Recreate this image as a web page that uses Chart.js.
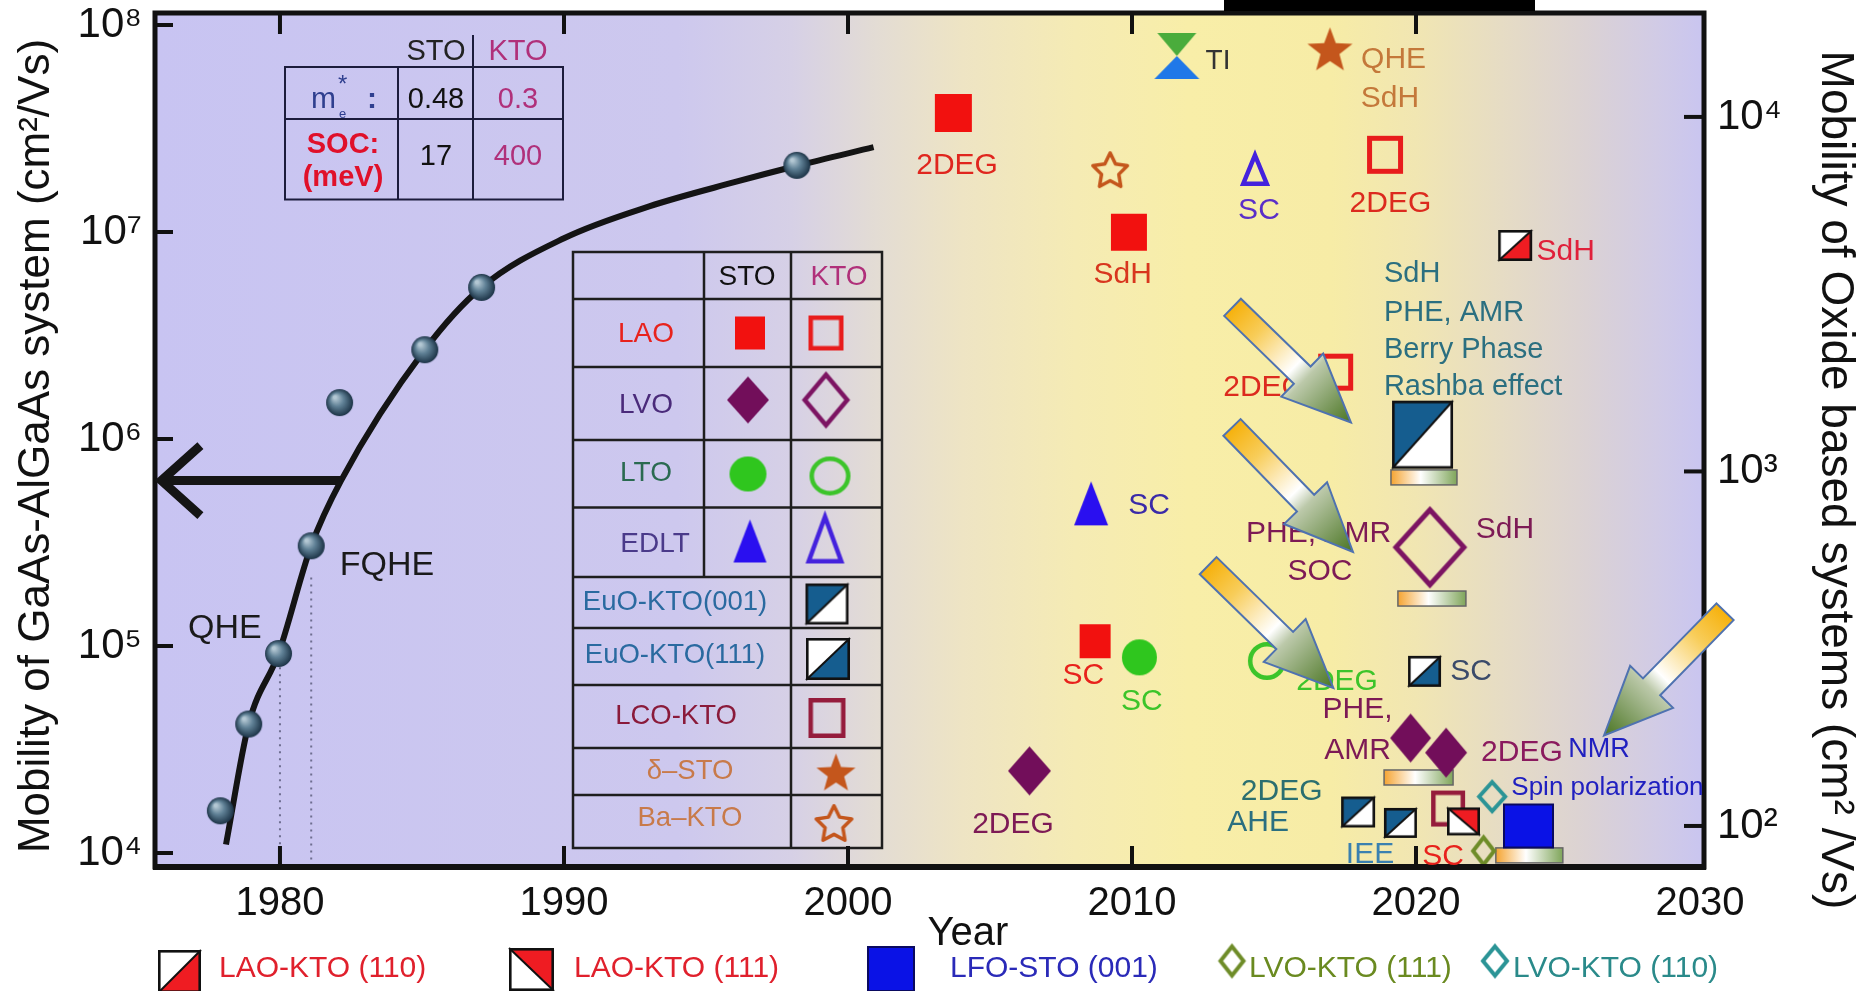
<!DOCTYPE html>
<html>
<head>
<meta charset="utf-8">
<title>Mobility of GaAs-AlGaAs and oxide-based 2D electron systems</title>
<script src="https://cdn.jsdelivr.net/npm/chart.js@4.4.1/dist/chart.umd.min.js"></script>
<style>
  html, body { margin: 0; padding: 0; background: #ffffff; }
  #wrap { width: 1858px; height: 991px; }
</style>
</head>
<body>
<div id="wrap"><canvas id="chart" width="1858" height="991"></canvas></div>
<script>
// ---------------- data ----------------
// GaAs-AlGaAs record mobilities (left axis, cm^2/Vs)
const gaasYear = [1977.9, 1978.9, 1979.95, 1981.1, 1982.1, 1985.1, 1987.1, 1998.2];
const gaasMobility = [16000, 42000, 92000, 305000, 1500000, 2700000, 5400000, 21000000];
// trend curve through the GaAs records
const trendYear = [1978.1, 1978.9, 1979.95, 1981.1, 1982.15, 1985.1, 1987.1, 1990, 1993, 1996, 1998.2, 2000.9];
const trendMobility = [11000, 42000, 92000, 305000, 630000, 2700000, 5400000, 9330000, 13300000, 17400000, 20900000, 25700000];

// oxide interfaces (right axis, cm^2/Vs)
const laoStoYear = [2003.71, 2009.89, 2008.7];
const laoStoMob = [10260, 4730, 332];
const laoKtoYear = [2018.91, 2017.17];
const laoKtoMob = [7820, 1906];
const lvoStoYear = [2006.39, 2019.81, 2021.06];
const lvoStoMob = [143, 177, 161];
const lvoKtoYear = [2020.49];
const lvoKtoMob = [611];
const ltoStoYear = [2010.26];
const ltoStoMob = [299];
const ltoKtoYear = [2014.75];
const ltoKtoMob = [292];
const edltStoYear = [2008.56];
const edltStoMob = [813];
const edltKtoYear = [2014.33];
const edltKtoMob = [7110];
const euo001Year = [2020.23, 2017.96, 2019.45];
const euo001Mob = [1270, 109.5, 102];
const euo111Year = [2020.3];
const euo111Mob = [273];
const lcoKtoYear = [2021.13];
const lcoKtoMob = [112];
const deltaStoYear = [2016.97];
const deltaStoMob = [15560];
const baKtoYear = [2009.23];
const baKtoMob = [7100];
const tiYear = [2011.58];
const tiMob = [14860];
const laoKto110Year = [2023.49];
const laoKto110Mob = [4340];
const laoKto111Year = [2021.67];
const laoKto111Mob = [103];
const lfoStoYear = [2023.96];
const lfoStoMob = [100];
const lvoKto111Year = [2022.38];
const lvoKto111Mob = [85];
const lvoKto110Year = [2022.68];
const lvoKto110Mob = [121];

// axis ticks
const yearTicks = [1980, 1990, 2000, 2010, 2020, 2030];
const yearMarks = [1980, 1990, 2000, 2010, 2020];
const gaasTicks = [1e4, 1e5, 1e6, 1e7, 1e8];
const oxideTicks = [1e2, 1e3, 1e4];

// text notes: [text, year, mobility, colour, align, size]
const oxideNotes = [
  ['2DEG', 2003.84, 7280, '#e0261e'],
  ['SdH', 2009.67, 3590, '#d8361e'],
  ['TI', 2013.03, 14390, '#333333', 'center', 28],
  ['QHE', 2019.21, 14520, '#c4783a'],
  ['SdH', 2019.08, 11250, '#c4783a'],
  ['SC', 2014.47, 5430, '#5a2ec8'],
  ['2DEG', 2019.1, 5700, '#dc2a1e'],
  ['SdH', 2025.27, 4170, '#e0203a'],
  ['2DEG', 2014.65, 1718, '#dc2a1e'],
  ['SdH', 2018.87, 3610, '#2b6f80', 'left', 29],
  ['PHE, AMR', 2018.87, 2806, '#2b6f80', 'left', 29],
  ['Berry Phase', 2018.87, 2206, '#2b6f80', 'left', 29],
  ['Rashba effect', 2018.87, 1734, '#2b6f80', 'left', 29],
  ['SC', 2010.6, 802, '#3a2aa8'],
  ['SdH', 2023.13, 687, '#7d1a55'],
  ['PHE, AMR', 2016.57, 668, '#7d1a55'],
  ['SOC', 2016.62, 522, '#7d1a55'],
  ['SC', 2008.29, 265, '#e8221c'],
  ['SC', 2010.35, 224, '#3cc42a'],
  ['2DEG', 2017.22, 255, '#3cc42a'],
  ['SC', 2021.94, 272, '#3a4a6a'],
  ['PHE,', 2017.94, 213, '#7d1a55'],
  ['AMR', 2017.94, 163, '#7d1a55'],
  ['2DEG', 2023.73, 161, '#8a1a5e'],
  ['2DEG', 2005.81, 101, '#7d1a55'],
  ['2DEG', 2015.27, 125, '#2b6f70'],
  ['AHE', 2014.44, 102, '#2b6f80'],
  ['IEE', 2018.38, 83, '#3a80b0'],
  ['SC', 2020.95, 82, '#e8221c'],
  ['NMR', 2026.44, 164, '#2020c0', 'center', 27],
  ['Spin polarization', 2026.74, 128, '#2020c0', 'center', 26]
];
const gaasNotes = [
  ['QHE', 1978.06, 122000, '#1a1a1a', 'center', 34],
  ['FQHE', 1983.77, 245000, '#1a1a1a', 'center', 34]
];

// colour bars under highlighted oxide results: [year, mobility]
const highlightBars = [[2020.28, 962], [2020.56, 438], [2020.09, 137], [2023.99, 82.6]];
const highlightBarWidths = [66, 68, 69, 67];

// block arrows: [tailYear, tailMob, tipYear, tipMob]
const blockArrows = [
  [2013.54, 2904, 2017.71, 1374],
  [2013.52, 1331, 2017.78, 593],
  [2012.68, 542, 2017.09, 245],
  [2030.88, 402, 2026.62, 180]
];
// arrow pointing to the GaAs axis
const pointerYear = [1982.15, 1975.72];
const pointerMobility = 630000;
// dotted guides: [year, from mobility]
const gaasGuides = [[1980, 79000], [1981.1, 214000]];

// ---------------- marker drawing ----------------
const FONT = '"Liberation Sans", Arial, Helvetica, sans-serif';
const NOTE_SIZE = 30;
const RED = '#f2110f';
const PURPLE = '#720e5a';
const GREEN = '#2fc61e';
const EDLT_BLUE = '#2a0ff0';
const EUO_BLUE = '#155d8f';
const STAR = '#c4561c';

function mk(w, h) {
  const cv = document.createElement('canvas');
  cv.width = Math.ceil(w) + 10;
  cv.height = Math.ceil(h) + 10;
  return { cv, g: cv.getContext('2d'), cx: cv.width / 2, cy: cv.height / 2 };
}
function shapePath(g, kind, cx, cy, w, h, inner) {
  g.beginPath();
  if (kind === 'square') {
    g.rect(cx - w / 2, cy - h / 2, w, h);
  } else if (kind === 'diamond') {
    g.moveTo(cx, cy - h / 2); g.lineTo(cx + w / 2, cy); g.lineTo(cx, cy + h / 2); g.lineTo(cx - w / 2, cy); g.closePath();
  } else if (kind === 'circle') {
    g.ellipse(cx, cy, w / 2, h / 2, 0, 0, Math.PI * 2);
  } else if (kind === 'triangle') {
    g.moveTo(cx, cy - h / 2); g.lineTo(cx + w / 2, cy + h / 2); g.lineTo(cx - w / 2, cy + h / 2); g.closePath();
  } else if (kind === 'star') {
    const R = h / 1.809;
    const sx = (w / 2) / (0.951 * R);
    const oy = cy - h / 2 + R;
    for (let i = 0; i < 10; i++) {
      const a = -Math.PI / 2 + i * Math.PI / 5;
      const r = i % 2 ? R * inner : R;
      const px = cx + Math.cos(a) * r * sx, py = oy + Math.sin(a) * r;
      if (i) g.lineTo(px, py); else g.moveTo(px, py);
    }
    g.closePath();
  }
}
function solid(kind, w, h, fill, edge) {
  const m = mk(w, h);
  shapePath(m.g, kind, m.cx, m.cy, w, h, 0.42);
  m.g.fillStyle = fill; m.g.fill();
  if (edge) { m.g.lineWidth = 2; m.g.strokeStyle = edge; m.g.stroke(); }
  return m.cv;
}
function hollow(kind, w, h, stroke, lw) {
  const m = mk(w, h);
  shapePath(m.g, kind, m.cx, m.cy, w - lw, h - lw, 0.5);
  m.g.lineWidth = lw; m.g.strokeStyle = stroke;
  m.g.lineJoin = kind === 'star' ? 'round' : 'miter';
  m.g.stroke();
  return m.cv;
}
// square split along a diagonal; 'up' = bottom-left to top-right (a: upper-left, b: lower-right)
// 'down' = top-left to bottom-right (a: lower-left, b: upper-right)
function halfSquare(w, h, diag, a, b) {
  const m = mk(w, h), g = m.g;
  const L = m.cx - w / 2, T = m.cy - h / 2, R = L + w, B = T + h;
  const tri = (p, col) => { g.beginPath(); g.moveTo(p[0], p[1]); g.lineTo(p[2], p[3]); g.lineTo(p[4], p[5]); g.closePath(); g.fillStyle = col; g.fill(); };
  if (diag === 'up') {
    tri([L, T, R, T, L, B], a); tri([R, T, R, B, L, B], b);
    g.beginPath(); g.moveTo(L, B); g.lineTo(R, T);
  } else {
    tri([L, T, R, B, L, B], a); tri([L, T, R, T, R, B], b);
    g.beginPath(); g.moveTo(L, T); g.lineTo(R, B);
  }
  g.lineWidth = 2; g.strokeStyle = '#111'; g.stroke();
  g.lineWidth = 2.6; g.strokeRect(L + 1.3, T + 1.3, w - 2.6, h - 2.6);
  return m.cv;
}
function hourglass(w, h) {
  const m = mk(w, h), g = m.g;
  const L = m.cx - w / 2, T = m.cy - h / 2, R = L + w, B = T + h;
  g.beginPath(); g.moveTo(L + 3, T); g.lineTo(R - 3, T); g.lineTo(m.cx, m.cy); g.closePath();
  g.fillStyle = '#4aac3c'; g.fill();
  g.beginPath(); g.moveTo(m.cx, m.cy); g.lineTo(R, B); g.lineTo(L, B); g.closePath();
  g.fillStyle = '#1f78e8'; g.fill();
  return m.cv;
}
function sphere(d) {
  const m = mk(d, d), g = m.g, r = d / 2;
  const grad = g.createRadialGradient(m.cx - r * 0.35, m.cy - r * 0.4, r * 0.1, m.cx, m.cy, r);
  grad.addColorStop(0, '#b4c8d4');
  grad.addColorStop(0.45, '#5f8095');
  grad.addColorStop(1, '#1c3346');
  g.beginPath(); g.arc(m.cx, m.cy, r, 0, Math.PI * 2); g.fillStyle = grad; g.fill();
  return m.cv;
}

// per-point marker styles
const gaasStyle = gaasYear.map(() => sphere(27));
const laoStoStyle = [solid('square', 37, 38, RED), solid('square', 36, 37, RED), solid('square', 31, 34, RED)];
const laoKtoStyle = [hollow('square', 36, 38, '#e81c1c', 5), hollow('square', 35, 37, '#e81c1c', 5)];
const lvoStoStyle = [solid('diamond', 43, 49, PURPLE), solid('diamond', 41, 49, PURPLE), solid('diamond', 42, 50, PURPLE)];
const lvoKtoStyle = [hollow('diamond', 73, 80, '#7c1462', 5)];
const ltoStoStyle = [solid('circle', 35, 36, GREEN)];
const ltoKtoStyle = [hollow('circle', 38, 38, '#3cc42a', 4.5)];
const edltStoStyle = [solid('triangle', 34, 44, EDLT_BLUE)];
const edltKtoStyle = [hollow('triangle', 28, 33, '#4422dd', 4.5)];
const euo001Style = [halfSquare(61, 68, 'up', EUO_BLUE, '#ffffff'), halfSquare(34, 31, 'up', EUO_BLUE, '#ffffff'), halfSquare(33, 30, 'up', EUO_BLUE, '#ffffff')];
const euo111Style = [halfSquare(33, 31, 'up', '#ffffff', EUO_BLUE)];
const lcoKtoStyle = [hollow('square', 34, 36, '#951c3c', 4.5)];
const deltaStoStyle = [solid('star', 45, 43, STAR)];
const baKtoStyle = [hollow('star', 38, 37, STAR, 3.5)];
const tiStyle = [hourglass(45, 46)];
const laoKto110Style = [halfSquare(34, 31, 'up', '#ffffff', '#ef1c22')];
const laoKto111Style = [halfSquare(33, 28, 'down', '#ffffff', '#ef1c22')];
const lfoStoStyle = [solid('square', 49, 43, '#0a12e6', '#0a0a60')];
const lvoKto111Style = [hollow('diamond', 25, 31, '#6e8c28', 4)];
const lvoKto110Style = [hollow('diamond', 30, 33, '#2b9496', 4)];

function pts(xs, ys) { return xs.map((x, i) => ({ x, y: ys[i] })); }
function markers(label, xs, ys, style, axis) {
  return {
    label, data: pts(xs, ys), yAxisID: axis || 'yR', showLine: false,
    pointStyle: style, pointRadius: 12, pointHoverRadius: 12
  };
}

const SUP = ['⁰', '¹', '²', '³', '⁴', '⁵', '⁶', '⁷', '⁸', '⁹'];
const powerLabel = v => '10' + SUP[Math.round(Math.log10(v))];

// ---------------- decorations ----------------
function txt(c, s, x, y, color, size, align, weight, baseline) {
  c.font = (weight || '') + ' ' + size + 'px ' + FONT;
  c.fillStyle = color;
  c.textAlign = align || 'center';
  c.textBaseline = baseline || 'middle';
  c.fillText(s, x, y);
}
function seg(c, x0, y0, x1, y1) { c.beginPath(); c.moveTo(x0, y0); c.lineTo(x1, y1); c.stroke(); }

function drawTopTable(c) {
  c.save();
  c.strokeStyle = '#1c1c3c'; c.lineWidth = 2;
  c.strokeRect(285, 67, 278, 132.5);
  seg(c, 398, 67, 398, 199.5);
  seg(c, 473, 35, 473, 199.5);
  seg(c, 285, 119, 563, 119);
  txt(c, 'STO', 436, 52, '#222', 29);
  txt(c, 'KTO', 518, 52, '#b0307a', 29);
  // effective mass m_e*
  txt(c, 'm', 311, 108, '#2f3f8f', 30, 'left', '', 'alphabetic');
  txt(c, '*', 338, 92, '#2f3f8f', 24, 'left', '', 'alphabetic');
  txt(c, 'e', 339, 118, '#2f3f8f', 13, 'left', '', 'alphabetic');
  txt(c, ':', 367, 108, '#2f3f8f', 30, 'left', 'bold', 'alphabetic');
  txt(c, '0.48', 436, 100, '#111', 29);
  txt(c, '0.3', 518, 100, '#b0307a', 29);
  txt(c, 'SOC:', 343, 145, '#e0102a', 29, 'center', 'bold');
  txt(c, '(meV)', 343, 178, '#e0102a', 29, 'center', 'bold');
  txt(c, '17', 436, 157, '#111', 29);
  txt(c, '400', 518, 157, '#b0307a', 29);
  c.restore();
}

const legendRowLines = [299, 367, 440, 507.5, 577, 628, 685, 748, 795];
function drawLegendTable(c) {
  c.save();
  c.strokeStyle = '#1e1e1e'; c.lineWidth = 2.5;
  c.strokeRect(573, 252, 309, 596);
  legendRowLines.forEach(y => seg(c, 573, y, 882, y));
  seg(c, 704, 252, 704, 577);
  seg(c, 791, 252, 791, 848);
  txt(c, 'STO', 747, 277, '#111', 28);
  txt(c, 'KTO', 839, 277, '#b0307a', 28);
  const rowsL = [['LAO', 334, '#e8221c'], ['LVO', 405.5, '#4a2a7a'], ['LTO', 473, '#2a6a50'], ['EDLT', 544, '#4a3a8a']];
  rowsL.forEach(r => txt(c, r[0], r[0] === 'EDLT' ? 655 : 646, r[1], r[2], 28));
  const rowsW = [['EuO-KTO(001)', 675, 602, '#2a6aa0'], ['EuO-KTO(111)', 675, 655, '#2a6aa0'],
                 ['LCO-KTO', 676, 716, '#8a1a3a'], ['δ–STO', 690, 771, '#c87a4a'], ['Ba–KTO', 690, 818, '#c87a4a']];
  rowsW.forEach(r => txt(c, r[0], r[1], r[2], r[3], 27.5));
  const icon = (cv, x, y) => c.drawImage(cv, x - cv.width / 2, y - cv.height / 2);
  icon(solid('square', 30, 33, RED), 750, 333);
  icon(hollow('square', 35, 35, '#e81c1c', 4.5), 826, 333);
  icon(solid('diamond', 42, 47, PURPLE), 748, 400);
  icon(hollow('diamond', 47, 55, '#7c1462', 4.5), 826, 400);
  icon(solid('circle', 37, 35, GREEN), 748, 474);
  icon(hollow('circle', 41, 39, '#3cc42a', 4.5), 830, 476);
  icon(solid('triangle', 33, 43, EDLT_BLUE), 750, 541);
  icon(hollow('triangle', 37, 49, '#4422dd', 4.5), 825, 539);
  icon(halfSquare(43, 41, 'up', EUO_BLUE, '#ffffff'), 827, 604);
  icon(halfSquare(44, 42, 'up', '#ffffff', EUO_BLUE), 828, 659);
  icon(hollow('square', 37, 40, '#951c3c', 4.5), 827, 718);
  icon(solid('star', 39, 37, STAR), 836, 772);
  icon(hollow('star', 39, 38, STAR, 3.5), 834, 823);
  c.restore();
}

function drawBottomLegend(c) {
  c.save();
  c.drawImage(halfSquare(43, 43, 'up', '#ffffff', '#ef1c22'), 158 - 5, 950 - 5);
  c.drawImage(halfSquare(45, 43, 'down', '#ffffff', '#ef1c22'), 509 - 5, 948 - 5);
  c.drawImage(solid('square', 46, 44, '#0a12e6', '#0a0a60'), 868 - 5, 947 - 5);
  const d1 = hollow('diamond', 27, 33, '#6e8c28', 4);
  c.drawImage(d1, 1232 - d1.width / 2, 961 - d1.height / 2);
  const d2 = hollow('diamond', 28, 33, '#2b9496', 4);
  c.drawImage(d2, 1495 - d2.width / 2, 961 - d2.height / 2);
  txt(c, 'LAO-KTO (110)', 219, 969, '#e0202c', 30, 'left');
  txt(c, 'LAO-KTO (111)', 574, 969, '#e0202c', 30, 'left');
  txt(c, 'LFO-STO (001)', 950, 969, '#2a2ab8', 30, 'left');
  txt(c, 'LVO-KTO (111)', 1249, 969, '#6a8a20', 30, 'left');
  txt(c, 'LVO-KTO (110)', 1513, 969, '#2a8a8a', 30, 'left');
  c.restore();
}

function blockArrow(c, x0, y0, x1, y1) {
  const dx = x1 - x0, dy = y1 - y0, len = Math.hypot(dx, dy);
  const ux = dx / len, uy = dy / len, nx = -uy, ny = ux;
  const sw = 12, hw = 30, hl = 68;
  const bx = x1 - ux * hl, by = y1 - uy * hl;
  c.beginPath();
  c.moveTo(x0 + nx * sw, y0 + ny * sw);
  c.lineTo(bx + nx * sw, by + ny * sw);
  c.lineTo(bx + nx * hw, by + ny * hw);
  c.lineTo(x1, y1);
  c.lineTo(bx - nx * hw, by - ny * hw);
  c.lineTo(bx - nx * sw, by - ny * sw);
  c.lineTo(x0 - nx * sw, y0 - ny * sw);
  c.closePath();
  const g = c.createLinearGradient(x0, y0, x1, y1);
  g.addColorStop(0, '#f6b10c');
  g.addColorStop(0.22, '#f8cd5a');
  g.addColorStop(0.52, '#ffffff');
  g.addColorStop(0.62, '#bcc9aa');
  g.addColorStop(1, '#4a7523');
  c.fillStyle = g; c.fill();
  c.lineWidth = 2; c.strokeStyle = '#4f72b0'; c.lineJoin = 'miter'; c.stroke();
}

const decor = {
  id: 'decor',
  beforeDraw(chart) {
    const c = chart.ctx, a = chart.chartArea, x = chart.scales.x;
    c.save();
    c.fillStyle = '#ffffff';
    c.fillRect(0, 0, chart.width, chart.height);
    const g = c.createLinearGradient(a.left, 0, a.right, 0);
    const stops = [[1975.6, '#c8c4f2'], [1994, '#cdc8ee'], [1998, '#d6d0e6'], [2001, '#e3dcd4'], [2004, '#eee4c4'],
                   [2008, '#f5ebb4'], [2012, '#f8eea8'], [2017, '#f7eca6'], [2020, '#f1e6b2'], [2023, '#e6dcc4'],
                   [2026, '#dbd2d4'], [2028.5, '#d1cbe6'], [2030.14, '#c9c5f0']];
    stops.forEach(s => g.addColorStop(Math.min(1, Math.max(0, (x.getPixelForValue(s[0]) - a.left) / (a.right - a.left))), s[1]));
    c.fillStyle = g;
    c.fillRect(a.left, a.top, a.right - a.left, a.bottom - a.top);
    c.restore();
  },
  beforeDatasetsDraw(chart) {
    const c = chart.ctx, x = chart.scales.x, yL = chart.scales.yL, yR = chart.scales.yR, a = chart.chartArea;
    c.save();
    drawTopTable(c);
    drawLegendTable(c);
    // dotted guides from the first QHE / FQHE samples
    c.strokeStyle = '#6e6e90'; c.lineWidth = 2; c.setLineDash([2, 5]);
    gaasGuides.forEach(gd => seg(c, x.getPixelForValue(gd[0]), yL.getPixelForValue(gd[1]), x.getPixelForValue(gd[0]), a.bottom));
    c.setLineDash([]);
    // colour bars under highlighted results
    highlightBars.forEach((b, i) => {
      const w = highlightBarWidths[i], h = 15;
      const cx = x.getPixelForValue(b[0]), cy = yR.getPixelForValue(b[1]);
      const g = c.createLinearGradient(cx - w / 2, 0, cx + w / 2, 0);
      g.addColorStop(0, '#f5a431'); g.addColorStop(0.45, '#ffffff'); g.addColorStop(1, '#7fa55a');
      c.fillStyle = g;
      c.fillRect(cx - w / 2, cy - h / 2, w, h);
      c.lineWidth = 1.5; c.strokeStyle = '#666';
      c.strokeRect(cx - w / 2, cy - h / 2, w, h);
    });
    c.restore();
  },
  afterDatasetsDraw(chart) {
    const c = chart.ctx, x = chart.scales.x, yL = chart.scales.yL, yR = chart.scales.yR, a = chart.chartArea;
    c.save();
    // frame with inward ticks
    c.strokeStyle = '#111'; c.lineWidth = 5; c.lineCap = 'butt';
    c.strokeRect(a.left, a.top, a.right - a.left, a.bottom - a.top);
    c.lineWidth = 6; seg(c, a.left - 2, a.bottom, a.right + 2, a.bottom);
    c.lineWidth = 4;
    yearMarks.forEach(v => {
      const px = x.getPixelForValue(v);
      seg(c, px, a.bottom, px, a.bottom - 21);
      seg(c, px, a.top, px, a.top + 21);
    });
    gaasTicks.forEach(v => { const py = yL.getPixelForValue(v); seg(c, a.left, py, a.left + 18, py); });
    oxideTicks.forEach(v => { const py = yR.getPixelForValue(v); seg(c, a.right, py, a.right - 20, py); });

    // notes
    oxideNotes.forEach(n => txt(c, n[0], x.getPixelForValue(n[1]), yR.getPixelForValue(n[2]), n[3], n[5] || NOTE_SIZE, n[4] || 'center'));
    gaasNotes.forEach(n => txt(c, n[0], x.getPixelForValue(n[1]), yL.getPixelForValue(n[2]), n[3], n[5] || NOTE_SIZE, n[4] || 'center'));

    // arrow pointing to the GaAs axis
    const py = yL.getPixelForValue(pointerMobility);
    const x0 = x.getPixelForValue(pointerYear[0]), x1 = x.getPixelForValue(pointerYear[1]);
    c.strokeStyle = '#151515'; c.lineWidth = 9; c.lineJoin = 'miter';
    seg(c, x0, py, x1 + 3, py);
    c.beginPath(); c.moveTo(x1 + 42, py - 35); c.lineTo(x1 + 3, py); c.lineTo(x1 + 42, py + 35); c.stroke();

    // block arrows
    blockArrows.forEach(b => blockArrow(c, x.getPixelForValue(b[0]), yR.getPixelForValue(b[1]), x.getPixelForValue(b[2]), yR.getPixelForValue(b[3])));

    // dark strip above the frame
    c.fillStyle = '#000';
    c.fillRect(1224, 0, 311, 11);

    // axis titles
    c.save();
    c.translate(49, 446); c.rotate(-Math.PI / 2);
    txt(c, 'Mobility of GaAs-AlGaAs system (cm²/Vs)', 0, 0, '#111', 44, 'center', '', 'alphabetic');
    c.restore();
    c.save();
    c.translate(1822, 480); c.rotate(Math.PI / 2);
    txt(c, 'Mobility of Oxide based systems (cm² /Vs)', 0, 0, '#111', 46, 'center', '', 'alphabetic');
    c.restore();
    txt(c, 'Year', 968, 945, '#111', 40, 'center', '', 'alphabetic');

    drawBottomLegend(c);
    c.restore();
  }
};

// ---------------- chart ----------------
const X_MIN = 1975.6, X_MAX = 2030.14;
const GAAS_MIN = 8560, GAAS_MAX = 1.143e8;
const OXIDE_MIN = 76.6, OXIDE_MAX = 19640;

new Chart(document.getElementById('chart'), {
  type: 'scatter',
  data: {
    datasets: [
      markers('LVO-KTO (111)', lvoKto111Year, lvoKto111Mob, lvoKto111Style),
      markers('LAO-KTO (111)', laoKto111Year, laoKto111Mob, laoKto111Style),
      markers('LCO-KTO', lcoKtoYear, lcoKtoMob, lcoKtoStyle),
      markers('LVO-KTO (110)', lvoKto110Year, lvoKto110Mob, lvoKto110Style),
      markers('LFO-STO (001)', lfoStoYear, lfoStoMob, lfoStoStyle),
      markers('LAO-KTO (110)', laoKto110Year, laoKto110Mob, laoKto110Style),
      markers('EuO-KTO (001)', euo001Year, euo001Mob, euo001Style),
      markers('EuO-KTO (111)', euo111Year, euo111Mob, euo111Style),
      markers('LVO-STO', lvoStoYear, lvoStoMob, lvoStoStyle),
      markers('LVO-KTO', lvoKtoYear, lvoKtoMob, lvoKtoStyle),
      markers('LAO-STO', laoStoYear, laoStoMob, laoStoStyle),
      markers('LAO-KTO', laoKtoYear, laoKtoMob, laoKtoStyle),
      markers('LTO-STO', ltoStoYear, ltoStoMob, ltoStoStyle),
      markers('LTO-KTO', ltoKtoYear, ltoKtoMob, ltoKtoStyle),
      markers('EDLT STO', edltStoYear, edltStoMob, edltStoStyle),
      markers('EDLT KTO', edltKtoYear, edltKtoMob, edltKtoStyle),
      markers('δ-STO', deltaStoYear, deltaStoMob, deltaStoStyle),
      markers('Ba-KTO', baKtoYear, baKtoMob, baKtoStyle),
      markers('TI', tiYear, tiMob, tiStyle),
      markers('GaAs-AlGaAs', gaasYear, gaasMobility, gaasStyle, 'yL'),
      {
        label: 'GaAs-AlGaAs trend', data: pts(trendYear, trendMobility), yAxisID: 'yL',
        showLine: true, borderColor: '#141414', borderWidth: 6, pointRadius: 0, pointHoverRadius: 0,
        cubicInterpolationMode: 'monotone', fill: false
      }
    ]
  },
  options: {
    responsive: false,
    animation: false,
    devicePixelRatio: 1,
    events: [],
    layout: { padding: { top: 12, left: 0, right: 0, bottom: 0 } },
    plugins: { legend: { display: false }, tooltip: { enabled: false } },
    scales: {
      x: {
        type: 'linear', position: 'bottom', min: X_MIN, max: X_MAX,
        grid: { display: false, drawTicks: false }, border: { display: false },
        ticks: { padding: 13, color: '#111', font: { family: FONT, size: 40 }, autoSkip: false, maxRotation: 0, callback: v => String(v) },
        afterBuildTicks: s => { s.ticks = yearTicks.map(value => ({ value })); },
        afterFit: s => { s.height = 124; s.paddingLeft = 0; s.paddingRight = 0; }
      },
      yL: {
        type: 'logarithmic', position: 'left', min: GAAS_MIN, max: GAAS_MAX,
        grid: { display: false, drawTicks: false }, border: { display: false },
        ticks: { padding: 13, color: '#111', font: { family: FONT, size: 42 }, autoSkip: false, callback: powerLabel },
        afterBuildTicks: s => { s.ticks = gaasTicks.map(value => ({ value })); },
        afterFit: s => { s.width = 155; s.paddingTop = 0; s.paddingBottom = 0; }
      },
      yR: {
        type: 'logarithmic', position: 'right', min: OXIDE_MIN, max: OXIDE_MAX,
        grid: { display: false, drawTicks: false }, border: { display: false },
        ticks: { padding: 13, color: '#111', font: { family: FONT, size: 42 }, autoSkip: false, callback: powerLabel },
        afterBuildTicks: s => { s.ticks = oxideTicks.map(value => ({ value })); },
        afterFit: s => { s.width = 154; s.paddingTop = 0; s.paddingBottom = 0; }
      }
    }
  },
  plugins: [decor]
});
</script>
</body>
</html>
